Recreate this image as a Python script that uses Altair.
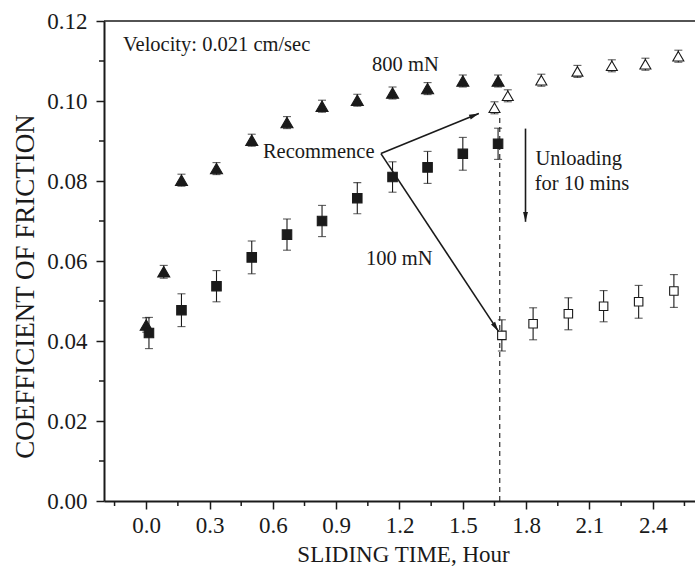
import math
import altair as alt
import pandas as pd

# 800 mN, continuous sliding (filled triangles)
t_800_run = [0.0, 0.083, 0.167, 0.333, 0.5, 0.667, 0.833, 1.0, 1.167, 1.333, 1.5, 1.667]
cof_800_run = [0.0440, 0.0573, 0.0802, 0.0831, 0.0902, 0.0946, 0.0987, 0.1002, 0.1020, 0.1031, 0.1050, 0.1050]
err_800_run = [0.0018, 0.0016, 0.0015, 0.0015, 0.0015, 0.0015, 0.0015, 0.0015, 0.0015, 0.0015, 0.0015, 0.0015]

# 800 mN, after 10 min of unloading (open triangles)
t_800_rest = [1.65, 1.713, 1.872, 2.043, 2.206, 2.365, 2.521]
cof_800_rest = [0.0983, 0.1013, 0.1052, 0.1074, 0.1088, 0.1092, 0.1112]
err_800_rest = [0.0015, 0.0015, 0.0015, 0.0015, 0.0015, 0.0015, 0.0015]

# 100 mN, continuous sliding (filled squares)
t_100_run = [0.013, 0.167, 0.333, 0.5, 0.667, 0.833, 1.0, 1.167, 1.333, 1.5, 1.667]
cof_100_run = [0.0420, 0.0477, 0.0537, 0.0609, 0.0666, 0.0700, 0.0757, 0.0810, 0.0834, 0.0868, 0.0893]
err_100_run = [0.0039, 0.0041, 0.0039, 0.0041, 0.0039, 0.0039, 0.0039, 0.0038, 0.0040, 0.0041, 0.0039]

# 100 mN, after 10 min of unloading (open squares)
t_100_rest = [1.685, 1.833, 2.0, 2.167, 2.333, 2.5]
cof_100_rest = [0.0414, 0.0443, 0.0468, 0.0487, 0.0498, 0.0525]
err_100_rest = [0.0039, 0.0040, 0.0040, 0.0039, 0.0041, 0.0041]

# unloading instant
unload_t = [1.675]
unload_top = [0.0965]

# annotation arrows (start -> tip)
arrow_x0 = [1.112, 1.112, 1.797]
arrow_y0 = [0.08685, 0.08685, 0.0931]
arrow_x1 = [1.576, 1.669, 1.797]
arrow_y1 = [0.0969, 0.0424, 0.0698]

# annotation texts
note_text = ["Velocity: 0.021 cm/sec", "800 mN", "Recommence", "100 mN", "Unloading", "for 10 mins"]
note_x = [-0.110, 1.070, 0.553, 1.041, 1.844, 1.841]
note_y = [0.1139, 0.1089, 0.0873, 0.0606, 0.0854, 0.0792]

# axis ticks
x_major = [0.0, 0.3, 0.6, 0.9, 1.2, 1.5, 1.8, 2.1, 2.4]
x_minor = [-0.15, 0.15, 0.45, 0.75, 1.05, 1.35, 1.65, 1.95, 2.25, 2.55]
y_major = [0.0, 0.02, 0.04, 0.06, 0.08, 0.10, 0.12]
y_minor = [0.01, 0.03, 0.05, 0.07, 0.09, 0.11]

X_DOMAIN = [-0.2, 2.6]
Y_DOMAIN = [0.0, 0.12]
W, H = 591, 480
FONT = "Liberation Serif"
INK = "#1a1a1a"


def frame(t, c, e, kind):
    return pd.DataFrame({"t": t, "cof": c, "err": e, "kind": kind})


points = pd.concat([
    frame(t_800_run, cof_800_run, err_800_run, "800 run"),
    frame(t_800_rest, cof_800_rest, err_800_rest, "800 rest"),
    frame(t_100_run, cof_100_run, err_100_run, "100 run"),
    frame(t_100_rest, cof_100_rest, err_100_rest, "100 rest"),
], ignore_index=True)
points["lo"] = points["cof"] - points["err"]
points["hi"] = points["cof"] + points["err"]

# arrowhead orientation from the on-screen direction of each arrow
sx = W / (X_DOMAIN[1] - X_DOMAIN[0])
sy = H / (Y_DOMAIN[1] - Y_DOMAIN[0])
arrows = pd.DataFrame({"x0": arrow_x0, "y0": arrow_y0, "x1": arrow_x1, "y1": arrow_y1})
arrows["ang"] = [
    math.degrees(math.atan2((b - a) * sx, (d - c) * sy)) % 360
    for a, b, c, d in zip(arrow_x0, arrow_x1, arrow_y0, arrow_y1)
]

notes = pd.DataFrame({"label": note_text, "x": note_x, "y": note_y})
dash = pd.DataFrame({"t": unload_t, "y0": [0.0], "y1": unload_top})
xminor_df = pd.DataFrame({"t": x_minor})
yminor_df = pd.DataFrame({"cof": y_minor})

xs = alt.Scale(domain=X_DOMAIN, nice=False, zero=False)
ys = alt.Scale(domain=Y_DOMAIN, nice=False, zero=False)

common_axis = dict(
    labelFont=FONT, titleFont=FONT, titleFontWeight="normal",
    labelColor=INK, titleColor=INK, domainColor=INK, tickColor=INK,
    domainWidth=2, tickWidth=1.5, labelFlush=False, labelOverlap=False, grid=False,
)

x_axis = alt.Axis(
    values=x_major, format=".1f", tickSize=8,
    title="SLIDING TIME, Hour",
    titleX=299, titleY=60, titleBaseline="alphabetic", titleAlign="center",
    titleFontSize=23, labelFontSize=23, labelPadding=5,
    **common_axis,
)
y_axis = alt.Axis(
    values=y_major, format=".2f", tickSize=8,
    title="COEFFICIENT OF FRICTION",
    titleX=-71, titleY=265, titleBaseline="alphabetic", titleAlign="center", titleAngle=270,
    titleFontSize=27, labelFontSize=23, labelPadding=9,
    **common_axis,
)


def X(field):
    return alt.X(field, type="quantitative", scale=xs, axis=x_axis)


def Y(field):
    return alt.Y(field, type="quantitative", scale=ys, axis=y_axis)


# top frame line
top_line = alt.Chart(pd.DataFrame({"a": [0]})).mark_rule(color=INK, strokeWidth=1.3).encode(
    x=alt.value(0), x2=alt.value(W), y=alt.value(0)
)

# minor ticks between labelled ticks
x_minor_ticks = alt.Chart(xminor_df).mark_rule(color=INK, strokeWidth=1.5).encode(
    x=X("t"), y=alt.value(H), y2=alt.value(H + 5)
)
y_minor_ticks = alt.Chart(yminor_df).mark_rule(color=INK, strokeWidth=1.5).encode(
    y=Y("cof"), x=alt.value(0), x2=alt.value(-5)
)

dashed = alt.Chart(dash).mark_rule(color=INK, strokeWidth=1.1, strokeDash=[5, 4]).encode(
    x=X("t"), y=Y("y0"), y2="y1:Q",
)

err_lines = alt.Chart(points).mark_rule(color=INK, strokeWidth=1.1).encode(
    x=X("t"), y=Y("lo"), y2="hi:Q",
)
caps_lo = alt.Chart(points).mark_tick(color=INK, orient="horizontal", size=8, thickness=1.1).encode(
    x=X("t"), y=Y("lo"),
)
caps_hi = alt.Chart(points).mark_tick(color=INK, orient="horizontal", size=8, thickness=1.1).encode(
    x=X("t"), y=Y("hi"),
)

TRI = "M0,-0.866L1,0.866L-1,0.866Z"


def symbols(kind, shape, size, filled):
    d = points[points["kind"] == kind]
    return alt.Chart(d).mark_point(
        shape=shape, size=size, filled=True,
        fill=INK if filled else "white", stroke=INK, strokeWidth=1.1, opacity=1,
    ).encode(x=X("t"), y=Y("cof"))


tri_run = symbols("800 run", TRI, 144, True)
tri_rest = symbols("800 rest", TRI, 121, False)
sq_run = symbols("100 run", "square", 90, True)
sq_rest = symbols("100 rest", "square", 72, False)

arrow_lines = alt.Chart(arrows).mark_rule(color=INK, strokeWidth=1.6).encode(
    x=X("x0"), y=Y("y0"), x2="x1:Q", y2="y1:Q",
)
arrow_heads = alt.Chart(arrows).mark_point(
    shape="M0,0L0.55,2.2L-0.55,2.2Z", size=80, filled=True, color=INK, opacity=1
).encode(
    x=X("x1"), y=Y("y1"), angle=alt.Angle("ang:Q", scale=None),
)

labels = alt.Chart(notes).mark_text(
    align="left", baseline="middle", font=FONT, fontSize=20.5, color=INK
).encode(
    x=X("x"), y=Y("y"), text="label:N",
)

chart = alt.layer(
    dashed, top_line, x_minor_ticks, y_minor_ticks, err_lines, caps_lo, caps_hi,
    tri_run, tri_rest, sq_run, sq_rest, arrow_lines, arrow_heads, labels,
).properties(
    width=W, height=H,
    padding={"left": 104, "top": 21, "right": 0, "bottom": 67},
    autosize=alt.AutoSizeParams(type="none"),
    background="white",
).configure_view(
    strokeWidth=0
)

chart.save("out.html", embed_options={"renderer": "svg", "actions": False})
